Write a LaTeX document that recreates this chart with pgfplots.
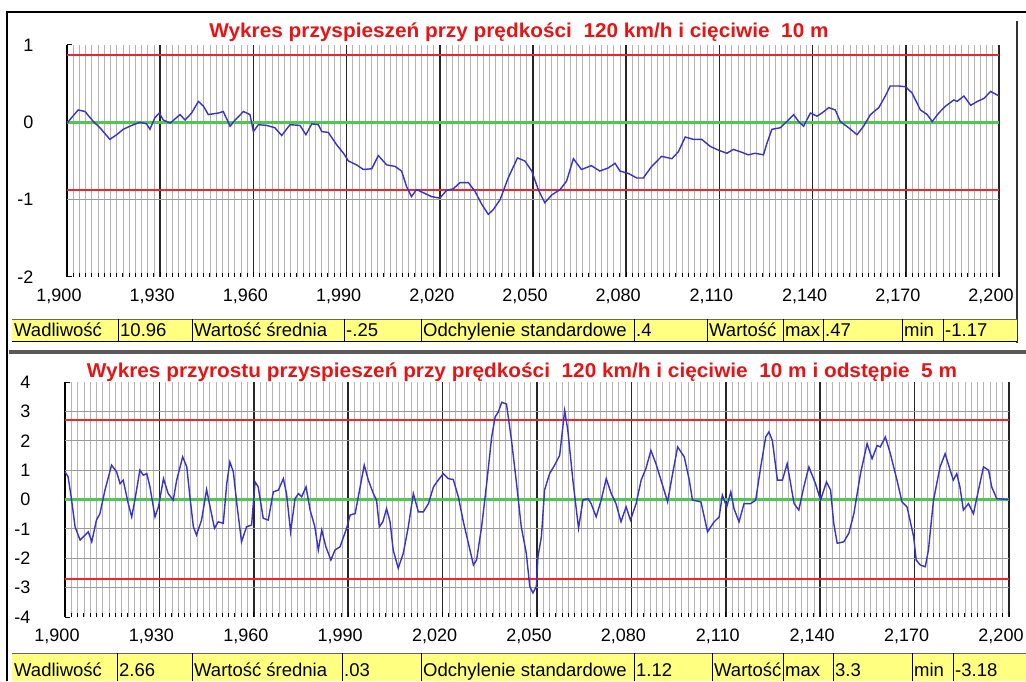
\documentclass[border=0pt]{standalone}
\usepackage{fontspec}
\setmainfont{Liberation Sans}
\usepackage{pgfplots}
\pgfplotsset{compat=1.18}

\definecolor{curve}{RGB}{55,50,200}
\definecolor{limitred}{RGB}{235,40,40}
\definecolor{greenline}{RGB}{80,200,80}
\definecolor{titlered}{RGB}{230,20,20}
\definecolor{baryellow}{RGB}{255,255,128}
\definecolor{minorgrid}{RGB}{180,180,180}
\definecolor{hgrid}{RGB}{155,155,155}

\newcommand{\tfont}{\fontsize{18}{18}\selectfont}
\newcommand{\bfont}{\fontsize{18.5}{18.5}\selectfont}
\newcommand{\hfont}{\bfseries\fontsize{20}{20}\selectfont}

\pgfplotsset{
  railstyle/.style={
    scale only axis,
    xmin=1900, xmax=2200,
    axis x line=bottom,
    axis y line=left,
    x axis line style={draw=none,-},
    y axis line style={black, line width=1.5pt, -},
    xtick={1900,1930,...,2200},
    xticklabels={{1,900},{1,930},{1,960},{1,990},{2,020},{2,050},{2,080},{2,110},{2,140},{2,170},{2,200}},
    minor x tick num=14,
    xmajorgrids, xminorgrids,
    major x grid style={black!85, line width=1.6pt},
    minor x grid style={minorgrid, line width=0.75pt},
    tick align=inside,
    major tick length=5pt,
    minor tick length=4pt,
    every tick/.style={black, line width=1pt},
    tick label style={font=\tfont},
    xticklabel style={anchor=north, xshift=-8pt, yshift=-8pt},
    clip=false,
  }
}

\begin{document}
\begin{tikzpicture}
\path[use as bounding box] (0,0) rectangle (1026pt,681pt);
\fill[white] (0,0) rectangle (1026pt,681pt);

% frames
\draw[black, line width=2pt] (7pt,0) -- (7pt,669pt) -- (1026pt,669pt);
\draw[black!80, line width=2pt] (1017pt,660pt) -- (1017pt,338pt);
\draw[black!65, line width=4pt] (9pt,329pt) -- (1026pt,329pt);

% top stats bar
\fill[baryellow] (12pt,339pt) rectangle (1017pt,362pt);
\draw[black, line width=1pt] (12pt,339pt) -- (1017pt,339pt);
\draw[black!60, line width=0.8pt] (12pt,362pt) -- (1017pt,362pt);
\foreach \xx in {118,192,344,421,634,707,783,823,902,943}
  \draw[black, line width=1pt] (\xx pt,339pt) -- (\xx pt,362pt);
\foreach \xx/\lab in {12/Wadliwość,118/10.96,192/Wartość średnia,344/-.25,421/Odchylenie standardowe,634/.4,707/Wartość,783/max,823/.47,902/min,943/-1.17}
  \node[anchor=base west, inner sep=0pt, font=\bfont] at (\xx pt+2pt,344.3pt) {\lab};

% bottom stats bar
\fill[baryellow] (12pt,0pt) rectangle (1026pt,28pt);
\draw[black!60, line width=0.8pt] (12pt,28pt) -- (1026pt,28pt);
\foreach \xx in {117,192,342,421,634,712,783,833,912,953}
  \draw[black, line width=1pt] (\xx pt,0pt) -- (\xx pt,28pt);
\foreach \xx/\lab in {12/Wadliwość,117/2.66,192/Wartość średnia,342/.03,421/Odchylenie standardowe,634/1.12,712/Wartość,783/max,833/3.3,912/min,953/-3.18}
  \node[anchor=base west, inner sep=0pt, font=\bfont] at (\xx pt+2pt,5pt) {\lab};

% titles
\node[anchor=base, inner sep=0pt, text=titlered, font=\hfont] at (519pt,643pt)
  {\scalebox{1.04}[1]{Wykres przyspieszeń przy prędkości\ \ 120 km/h i cięciwie\ \ 10 m}};
\node[anchor=base, inner sep=0pt, text=titlered, font=\hfont] at (522pt,303pt)
  {\scalebox{1.04}[1]{Wykres przyrostu przyspieszeń przy prędkości\ \ 120 km/h i cięciwie\ \ 10 m i odstępie\ \ 5 m}};

% top chart
\begin{axis}[railstyle,
  at={(67pt,404pt)}, anchor=south west,
  width=932pt, height=232pt,
  ymin=-2, ymax=1,
  ytick={-2,-1,0,1}, yticklabels={{-2},{-1},{0},{1}},
  yticklabel style={anchor=east, xshift=-30pt},
]
\addplot[color=hgrid, line width=1pt] coordinates {(1900,-1) (2200,-1)};
\addplot[color=limitred, line width=2pt] coordinates {(1900,0.866) (2200,0.866)};
\addplot[color=limitred, line width=2pt] coordinates {(1900,-0.87) (2200,-0.87)};
\addplot[color=greenline, line width=2.6pt] coordinates {(1900,0) (2200,0)};
\addplot[color=curve, line width=1.4pt] coordinates {
(1900,-0.01) (1903.6,0.16) (1905.8,0.14) (1908.5,0.01) (1910.6,-0.07) (1913.8,-0.22) (1916,-0.16) (1918.1,-0.09) (1920.8,-0.04) (1923.5,0.0) (1925.6,-0.02) (1926.7,-0.09) (1928.3,0.06) (1929.7,0.12) (1931,0.03) (1933.2,-0.01) (1936.4,0.1) (1938,0.03) (1940.1,0.12) (1942.3,0.27) (1943.9,0.21) (1945.5,0.1) (1948.7,0.12) (1950.3,0.14) (1952.5,-0.05) (1954.1,0.03) (1956.8,0.14) (1958.9,0.1) (1960,-0.12) (1961.6,-0.03) (1964.3,-0.04) (1966.9,-0.07) (1969.1,-0.17) (1971.8,-0.03) (1975,-0.04) (1976.9,-0.16) (1978.8,-0.02) (1980.9,-0.03) (1982,-0.12) (1984.1,-0.13) (1986.8,-0.29) (1989,-0.40) (1990.6,-0.5) (1993.2,-0.55) (1995.4,-0.61) (1998.1,-0.6) (2000.2,-0.43) (2002.9,-0.55) (2005.6,-0.57) (2007.7,-0.63) (2009.3,-0.83) (2010.9,-0.96) (2012.5,-0.87) (2014.7,-0.91) (2017.3,-0.96) (2020,-0.98) (2022.2,-0.88) (2024.3,-0.86) (2026.5,-0.78) (2029.2,-0.78) (2031.3,-0.89) (2033.5,-1.06) (2035.6,-1.19) (2037.2,-1.13) (2039.4,-1.0) (2042,-0.72) (2045,-0.46) (2047.4,-0.50) (2049.6,-0.63) (2051.7,-0.87) (2053.8,-1.04) (2056,-0.94) (2058.7,-0.87) (2060.8,-0.76) (2063,-0.47) (2065.6,-0.61) (2068.8,-0.56) (2071.5,-0.63) (2074.2,-0.59) (2076.4,-0.53) (2078,-0.63) (2080.7,-0.66) (2083.4,-0.72) (2085.5,-0.72) (2088.2,-0.57) (2091.4,-0.44) (2094.7,-0.47) (2096.8,-0.38) (2099,-0.19) (2101.6,-0.22) (2104.3,-0.22) (2107,-0.31) (2109.7,-0.36) (2112.4,-0.40) (2114.5,-0.35) (2116.7,-0.38) (2119.3,-0.42) (2121.5,-0.40) (2124.2,-0.42) (2125.3,-0.27) (2126.9,-0.09) (2129.6,-0.07) (2131.7,0.01) (2133.9,0.10) (2135.5,0.01) (2137.1,-0.05) (2139.3,0.12) (2141.4,0.08) (2143,0.12) (2145.2,0.19) (2147.3,0.16) (2148.9,0.01) (2151.6,-0.07) (2154.3,-0.16) (2156.4,-0.05) (2158.6,0.10) (2161.3,0.19) (2163.4,0.34) (2165,0.47) (2167.7,0.47) (2169.9,0.46) (2172,0.38) (2174.7,0.16) (2176.9,0.10) (2178.5,0.01) (2180.6,0.12) (2182.8,0.21) (2185.5,0.29) (2186.5,0.27) (2188.7,0.34) (2190.9,0.22) (2193,0.27) (2195.2,0.31) (2197.3,0.40) (2200,0.34)
};
\end{axis}

% bottom chart
\begin{axis}[railstyle,
  at={(65pt,64pt)}, anchor=south west,
  width=944pt, height=235pt,
  ymin=-4, ymax=4,
  ytick={-4,-3,-2,-1,0,1,2,3,4}, yticklabels={{-4},{-3},{-2},{-1},{0},{1},{2},{3},{4}},
  yticklabel style={anchor=east, xshift=-31pt},
]
\addplot[color=hgrid, line width=1pt] coordinates {(1900,3) (2200,3)};
\addplot[color=hgrid, line width=1pt] coordinates {(1900,2) (2200,2)};
\addplot[color=hgrid, line width=1pt] coordinates {(1900,1) (2200,1)};
\addplot[color=hgrid, line width=1pt] coordinates {(1900,-1) (2200,-1)};
\addplot[color=hgrid, line width=1pt] coordinates {(1900,-2) (2200,-2)};
\addplot[color=hgrid, line width=1pt] coordinates {(1900,-3) (2200,-3)};
\addplot[color=limitred, line width=2pt] coordinates {(1900,2.71) (2200,2.71)};
\addplot[color=limitred, line width=2pt] coordinates {(1900,-2.71) (2200,-2.71)};
\addplot[color=greenline, line width=2.6pt] coordinates {(1900,0) (2200,0)};
\addplot[color=curve, line width=1.4pt] coordinates {
(1900,0.94) (1901,0.77) (1902.1,-0.02) (1903.2,-0.93) (1904.8,-1.38) (1906.4,-1.21) (1907.4,-1.10) (1908.5,-1.44) (1910,-0.70) (1911.1,-0.48) (1912.7,0.32) (1914.8,1.17) (1916.4,0.94) (1917.5,0.54) (1918.5,0.66) (1920.1,-0.14) (1921.2,-0.59) (1922.2,-0.02) (1923.8,1.0) (1924.9,0.83) (1926,0.88) (1927,0.43) (1928.6,-0.59) (1929.7,-0.25) (1931.3,0.71) (1932.8,0.2) (1934.4,-0.02) (1935.5,0.66) (1937.4,1.45) (1938.7,1.11) (1939.7,0.09) (1940.8,-0.93) (1941.8,-1.21) (1943.4,-0.70) (1945,0.34) (1946.1,-0.25) (1947.5,-0.98) (1948.7,-0.76) (1950.3,-0.81) (1951.4,0.54) (1952.4,1.28) (1953.5,0.94) (1954.6,-0.14) (1956.1,-1.44) (1957.7,-0.93) (1959.3,-0.87) (1960.4,0.60) (1961.4,0.43) (1963,-0.64) (1964.6,-0.70) (1966.2,0.26) (1967.8,0.32) (1969.4,0.71) (1970.4,0.2) (1971.7,-1.10) (1973.1,0.03) (1974.2,0.2) (1975.2,0.09) (1976.6,0.43) (1977.9,-0.36) (1979.4,-0.93) (1980.5,-1.72) (1981.6,-1.04) (1982.9,-1.61) (1984.5,-2.06) (1985.8,-1.72) (1987.4,-1.61) (1989.5,-0.98) (1990.6,-0.53) (1992.2,-0.48) (1993.8,0.43) (1995.1,1.17) (1996.4,0.66) (1998,0.2) (1999,-0.02) (1999.9,-0.93) (2001,-0.76) (2002.2,-0.31) (2003.3,-0.76) (2004.3,-1.72) (2005.9,-2.34) (2007.5,-1.83) (2009.1,-0.93) (2010.7,0.20) (2012.3,-0.42) (2013.9,-0.42) (2015.5,-0.14) (2017.1,0.43) (2018.6,0.66) (2020.2,0.88) (2021.8,0.71) (2023.4,0.68) (2025,0.09) (2026.6,-0.76) (2028.2,-1.49) (2029.8,-2.23) (2030.8,-2.06) (2032.4,-0.93) (2034,0.54) (2035.6,2.13) (2036.7,2.81) (2037.7,2.98) (2038.8,3.31) (2040.3,3.25) (2041.9,2.01) (2043.5,0.54) (2045,-0.93) (2046.6,-1.83) (2047.7,-2.96) (2048.7,-3.18) (2049.8,-2.96) (2050.3,-1.95) (2051.4,-1.27) (2052.4,0.32) (2054,0.88) (2055.6,1.17) (2057.2,1.50) (2058.8,3.03) (2059.8,2.35) (2061.4,0.66) (2063.2,-0.98) (2064.6,-0.02) (2066.2,0.03) (2067.2,-0.14) (2068.8,-0.59) (2070.4,-0.02) (2072,0.71) (2073.6,0.2) (2075.1,-0.14) (2076.7,-0.76) (2078.3,-0.25) (2079.7,-0.70) (2081.5,-0.14) (2083.1,0.66) (2084.6,1.05) (2086.2,1.67) (2087.8,1.22) (2089.4,0.66) (2091.5,-0.08) (2093.1,0.88) (2094.7,1.79) (2096.8,1.45) (2098.4,0.66) (2099.4,-0.02) (2102.1,-0.08) (2104.2,-1.10) (2106.3,-0.76) (2107.9,-0.59) (2108.9,0.15) (2110.3,-0.25) (2111.6,0.26) (2112.6,-0.31) (2114.2,-0.76) (2115.8,-0.14) (2117.9,-0.14) (2119.5,-0.02) (2121.1,1.11) (2122.7,2.13) (2123.7,2.30) (2124.8,2.01) (2126.4,0.66) (2128,0.66) (2129.5,1.22) (2131.7,-0.14) (2133.2,-0.36) (2134.8,0.43) (2136.4,1.11) (2138.5,0.54) (2140.1,-0.02) (2142,0.60) (2143.3,0.32) (2144.3,-0.81) (2145.4,-1.49) (2147.5,-1.44) (2149.1,-1.15) (2150.7,-0.48) (2152.8,0.88) (2154.9,1.90) (2156.5,1.39) (2158.1,1.84) (2159.1,1.79) (2160.7,2.13) (2162.3,1.56) (2164.4,0.66) (2166,-0.08) (2167.6,-0.25) (2169.7,-1.27) (2170.5,-2.06) (2171.8,-2.23) (2173.4,-2.29) (2174.4,-1.72) (2176,-0.02) (2178.1,1.11) (2179.7,1.56) (2181.3,1.0) (2182.3,0.66) (2183.4,0.88) (2184.4,0.43) (2185.5,-0.36) (2187.1,-0.14) (2188.7,-0.48) (2190.3,0.32) (2191.9,1.11) (2193.5,1.0) (2194.5,0.43) (2196.1,0.03) (2200,0.0)
};
\end{axis}
\end{tikzpicture}
\end{document}
